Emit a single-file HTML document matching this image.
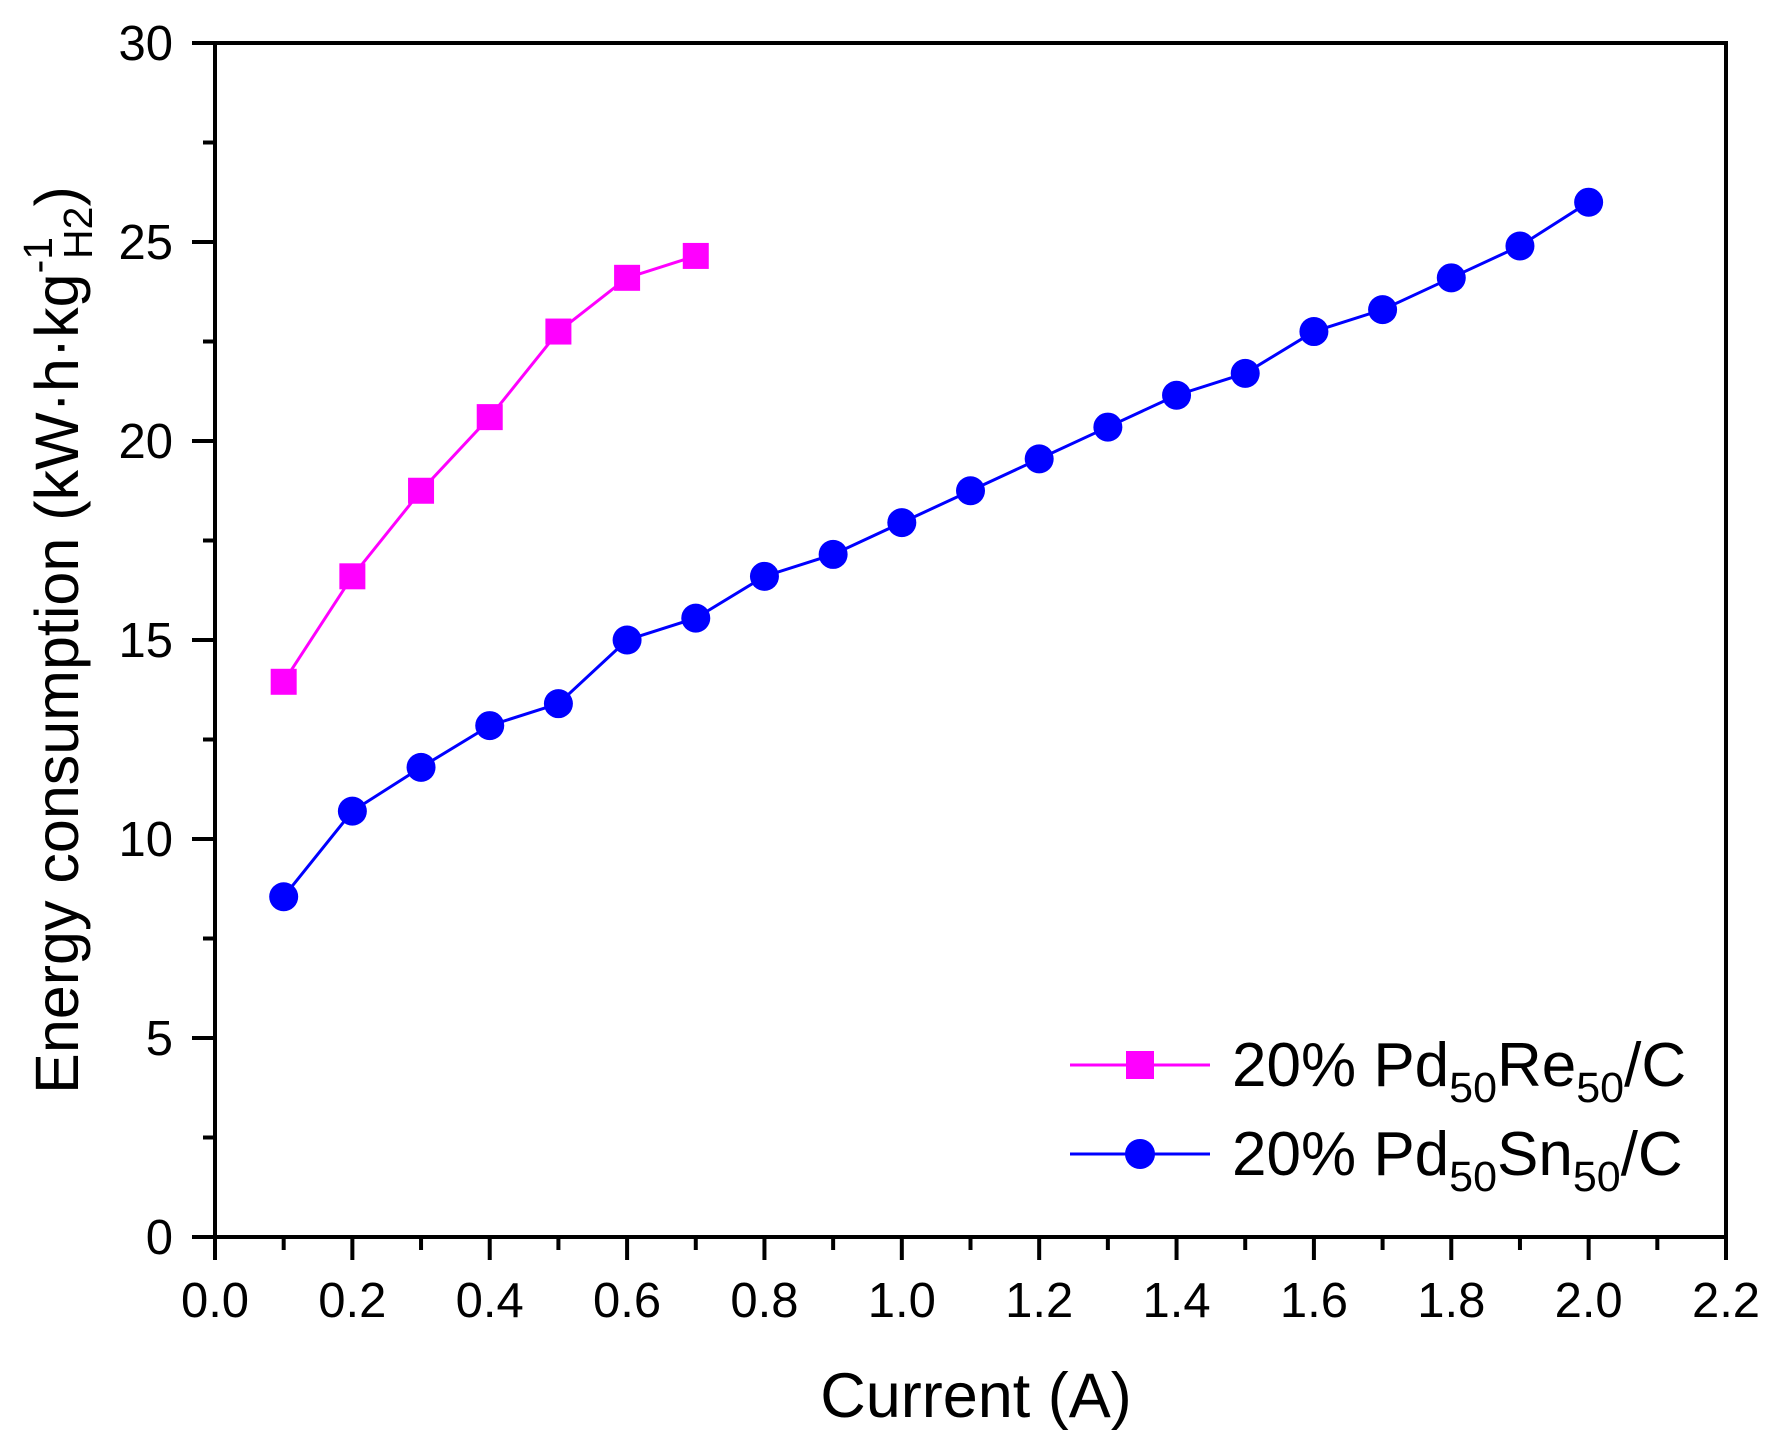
<!DOCTYPE html>
<html><head><meta charset="utf-8"><style>html,body{margin:0;padding:0;background:#fff}svg{display:block}</style></head>
<body>
<svg width="1777" height="1440" viewBox="0 0 1777 1440" xmlns="http://www.w3.org/2000/svg" font-family="Liberation Sans, Arial, sans-serif">
<rect width="1777" height="1440" fill="#fff"/>
<g stroke="#000" stroke-width="4" fill="none">
<rect x="215" y="43" width="1511" height="1194"/>
</g>
<g id="ticks" stroke="#000" stroke-width="4"></g>
<g id="labels" font-size="49" fill="#000"></g>
<g id="series"></g>
<text x="976" y="1417" font-size="63" text-anchor="middle">Current (A)</text>
<text transform="translate(78,640) rotate(-90)" font-size="61" text-anchor="middle">Energy consumption (kW·h·kg<tspan font-size="41" dy="-26">-1</tspan><tspan font-size="41" dx="-22" dy="40">H2</tspan><tspan dy="-14">)</tspan></text>
<g>
<line x1="1070" y1="1065" x2="1210" y2="1065" stroke="#ff00ff" stroke-width="3"/>
<rect x="1126" y="1051" width="28" height="28" fill="#ff00ff"/>
<line x1="1070" y1="1154" x2="1210" y2="1154" stroke="#0000ff" stroke-width="3"/>
<circle cx="1140" cy="1154" r="15" fill="#0000ff"/>
<text x="1232" y="1086" font-size="62">20% Pd<tspan font-size="43" dy="16">50</tspan><tspan dy="-16">Re</tspan><tspan font-size="43" dy="16">50</tspan><tspan dy="-16">/C</tspan></text>
<text x="1232" y="1175" font-size="62">20% Pd<tspan font-size="43" dy="16">50</tspan><tspan dy="-16">Sn</tspan><tspan font-size="43" dy="16">50</tspan><tspan dy="-16">/C</tspan></text>
</g>
<script>
var NS="http://www.w3.org/2000/svg";
function X(v){return 215+v*1511/2.2}
function Y(v){return 1237-v*1194/30}
function el(t,a,p,txt){var e=document.createElementNS(NS,t);for(var k in a)e.setAttribute(k,a[k]);if(txt!=null)e.textContent=txt;p.appendChild(e);return e}
var tk=document.getElementById('ticks'),lb=document.getElementById('labels');
for(var i=0;i<=22;i++){var x=X(i/10),maj=i%2==0;el('line',{x1:x,y1:1237,x2:x,y2:1237+(maj?23:13)},tk);
if(maj)el('text',{x:x,y:1317,'text-anchor':'middle'},lb,(i/10).toFixed(1));}
for(var j=0;j<=12;j++){var y=Y(j*2.5),maj=j%2==0;el('line',{x1:215,y1:y,x2:215-(maj?23:12),y2:y},tk);
if(maj)el('text',{x:173,y:y+17,'text-anchor':'end'},lb,String(j*2.5));}
var s=document.getElementById('series');
var re=[13.95,16.6,18.75,20.6,22.75,24.1,24.65];
var sn=[8.55,10.7,11.8,12.85,13.4,15.0,15.55,16.6,17.15,17.95,18.75,19.55,20.35,21.15,21.7,22.75,23.3,24.1,24.9,26.0];
function pts(a){return a.map(function(v,i){return X((i+1)/10)+','+Y(v)}).join(' ')}
el('polyline',{points:pts(re),fill:'none',stroke:'#ff00ff','stroke-width':3},s);
el('polyline',{points:pts(sn),fill:'none',stroke:'#0000ff','stroke-width':3},s);
re.forEach(function(v,i){el('rect',{x:X((i+1)/10)-13,y:Y(v)-13,width:26,height:26,fill:'#ff00ff'},s)});
sn.forEach(function(v,i){el('circle',{cx:X((i+1)/10),cy:Y(v),r:14.5,fill:'#0000ff'},s)});
</script>
</svg>
</body></html>
